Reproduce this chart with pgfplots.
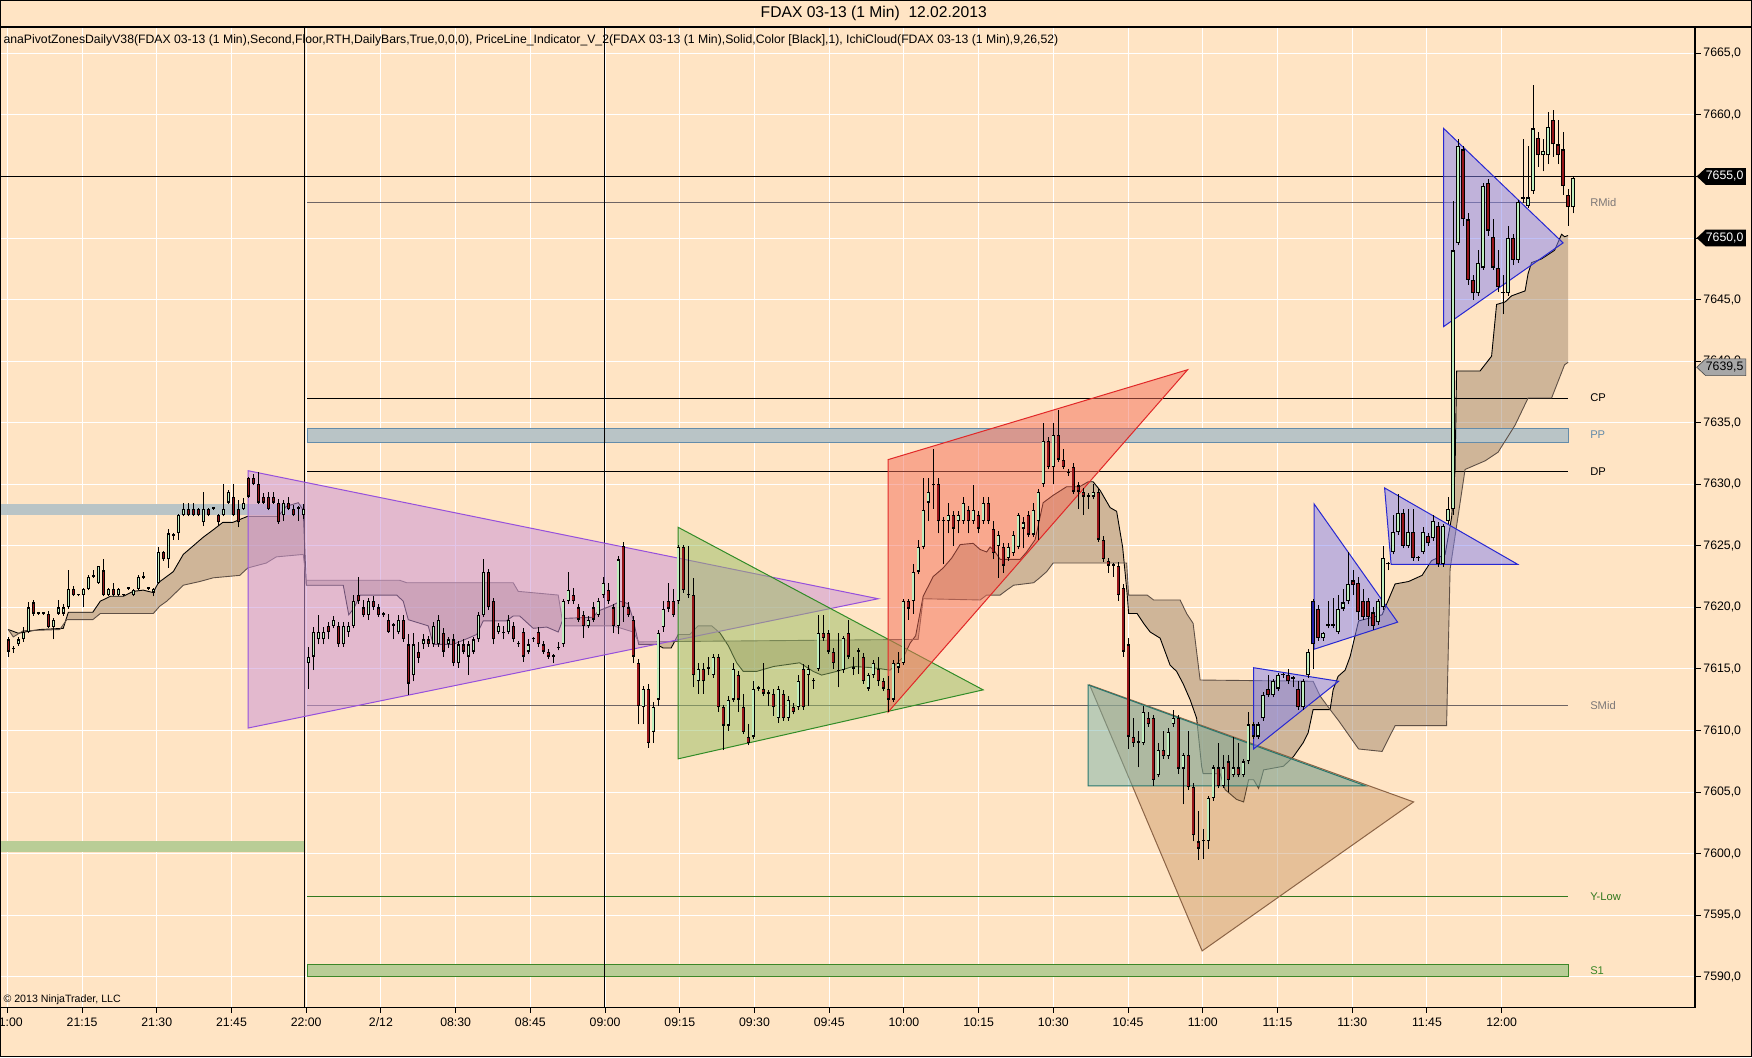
\documentclass[border=0pt]{standalone}
\usepackage{fontspec}
\setmainfont{Liberation Sans}
\usepackage{graphicx}
\usepackage{xcolor}
\usepackage{pgfplots}
\usepackage{pgfplotstable}
\pgfplotsset{compat=1.18}
\usepgfplotslibrary{fillbetween}

\definecolor{bisque}{RGB}{255,228,196}
\definecolor{upg}{RGB}{190,238,190}
\definecolor{dnr}{RGB}{150,20,25}
\definecolor{blu}{RGB}{30,30,170}
\definecolor{cloudc}{RGB}{160,135,110}
\definecolor{cloudl}{RGB}{95,80,70}
\definecolor{pinkf}{RGB}{205,150,215}
\definecolor{pinke}{RGB}{150,80,220}
\definecolor{greenf}{RGB}{150,190,100}
\definecolor{greene}{RGB}{50,140,40}
\definecolor{redf}{RGB}{245,110,90}
\definecolor{rede}{RGB}{225,40,40}
\definecolor{tealf}{RGB}{120,180,170}
\definecolor{teale}{RGB}{40,120,110}
\definecolor{brownf}{RGB}{200,150,100}
\definecolor{browne}{RGB}{140,100,70}
\definecolor{bluef}{RGB}{130,130,240}
\definecolor{bluee}{RGB}{40,40,210}
\definecolor{ppf}{RGB}{185,196,198}
\definecolor{ppe}{RGB}{100,140,170}
\definecolor{s1f}{RGB}{185,205,150}
\definecolor{s1e}{RGB}{60,135,40}
\definecolor{midl}{RGB}{110,100,100}
\definecolor{midt}{RGB}{125,120,120}
\definecolor{ylow}{RGB}{50,120,30}

\pgfplotstableread{
x o h l c
0 7617.4 7617.6 7616.0 7616.4
1 7616.6 7616.9 7616.3 7616.6
2 7617.0 7617.6 7616.9 7617.4
3 7617.4 7618.4 7617.2 7618.0
4 7618.0 7620.4 7617.9 7620.0
5 7620.4 7620.6 7619.3 7619.5
6 7619.5 7619.6 7619.4 7619.5
7 7619.5 7619.6 7619.4 7619.5
8 7619.5 7619.7 7618.3 7618.4
9 7618.4 7619.1 7617.4 7619.0
10 7619.5 7620.6 7619.4 7620.0
11 7619.5 7620.3 7619.3 7620.0
12 7620.0 7623.0 7619.9 7621.5
13 7621.5 7621.7 7620.9 7621.0
14 7621.0 7621.1 7620.9 7621.0
15 7621.0 7621.6 7620.0 7621.5
16 7621.5 7622.6 7621.4 7622.5
17 7622.5 7623.0 7622.4 7622.5
18 7622.0 7623.4 7621.9 7623.4
19 7623.0 7623.9 7620.9 7621.0
20 7621.0 7621.6 7620.9 7621.5
21 7621.5 7622.0 7620.9 7621.0
22 7621.0 7621.6 7620.9 7621.5
23 7621.0 7621.1 7620.9 7621.0
24 7621.5 7621.6 7621.4 7621.5
25 7621.0 7621.5 7620.9 7621.4
26 7621.5 7622.6 7621.4 7622.5
27 7622.4 7622.9 7622.3 7622.4
28 7621.5 7621.6 7621.4 7621.5
29 7621.2 7621.6 7620.9 7621.5
30 7622.0 7624.9 7621.9 7624.5
31 7624.5 7624.6 7623.8 7623.9
32 7623.9 7626.4 7623.2 7626.0
33 7625.8 7626.0 7625.5 7625.8
34 7626.0 7627.6 7625.5 7627.5
35 7627.5 7628.5 7627.4 7628.0
36 7628.0 7628.5 7627.4 7627.5
37 7628.0 7628.5 7627.4 7627.5
38 7628.0 7628.1 7627.4 7627.5
39 7626.9 7629.4 7626.6 7628.0
40 7628.0 7628.1 7627.4 7627.5
41 7628.0 7628.1 7627.9 7628.0
42 7627.5 7627.6 7626.6 7626.9
43 7627.5 7630.0 7627.4 7628.0
44 7628.5 7629.5 7628.4 7629.4
45 7629.0 7630.0 7627.4 7627.5
46 7628.0 7628.7 7626.5 7626.9
47 7628.0 7628.9 7627.9 7628.5
48 7630.5 7630.6 7628.9 7629.0
49 7630.5 7630.8 7629.9 7630.0
50 7630.0 7631.0 7628.4 7628.5
51 7629.0 7629.3 7628.4 7628.5
52 7629.0 7629.4 7627.9 7628.0
53 7629.0 7629.4 7628.4 7628.5
54 7628.5 7628.8 7626.8 7626.9
55 7627.5 7628.7 7627.0 7628.5
56 7628.5 7629.0 7627.9 7628.0
57 7628.0 7628.3 7627.4 7627.5
58 7628.0 7628.2 7627.0 7628.0
59 7627.5 7628.4 7627.2 7628.0
60 7615.5 7616.8 7613.4 7616.0
61 7616.0 7618.4 7614.9 7618.0
62 7617.4 7619.4 7617.0 7618.0
63 7617.4 7618.4 7617.0 7618.0
64 7618.5 7618.8 7617.4 7618.0
65 7618.5 7619.3 7618.3 7619.0
66 7618.5 7618.8 7616.8 7617.0
67 7617.0 7618.8 7616.8 7618.5
68 7618.0 7618.8 7617.6 7618.5
69 7618.5 7621.0 7618.3 7620.5
70 7621.0 7622.5 7620.3 7620.5
71 7620.0 7620.6 7619.2 7619.4
72 7619.4 7620.8 7619.0 7620.5
73 7620.5 7620.9 7619.8 7620.0
74 7620.0 7620.3 7619.2 7619.4
75 7619.4 7619.6 7619.2 7619.4
76 7619.0 7619.5 7617.9 7618.0
77 7618.5 7618.7 7617.4 7618.5
78 7618.0 7619.4 7617.8 7619.0
79 7619.0 7619.4 7617.2 7617.4
80 7617.0 7617.8 7612.9 7613.8
81 7614.5 7617.9 7614.0 7617.0
82 7616.4 7617.2 7615.5 7615.9
83 7617.0 7617.8 7616.6 7617.4
84 7617.4 7617.7 7616.8 7617.0
85 7617.0 7618.8 7616.8 7618.5
86 7617.0 7619.4 7616.8 7619.0
87 7617.9 7618.3 7616.0 7616.4
88 7617.0 7617.6 7616.7 7617.4
89 7617.4 7617.8 7615.2 7615.5
90 7615.5 7617.3 7615.1 7617.0
91 7617.0 7617.4 7616.2 7616.4
92 7616.0 7617.3 7614.5 7617.0
93 7616.4 7617.6 7616.2 7617.4
94 7617.4 7619.6 7617.2 7619.4
95 7619.4 7623.9 7619.2 7622.9
96 7622.9 7623.1 7619.8 7620.0
97 7620.5 7620.8 7617.0 7617.4
98 7618.0 7618.7 7617.8 7618.5
99 7617.9 7618.5 7617.4 7617.9
100 7618.0 7619.4 7617.8 7619.0
101 7618.5 7618.8 7617.2 7617.4
102 7617.0 7617.3 7616.8 7617.0
103 7618.0 7618.3 7615.6 7616.0
104 7616.4 7617.4 7616.2 7617.0
105 7617.4 7617.6 7617.2 7617.4
106 7618.0 7618.4 7616.8 7617.0
107 7617.0 7617.3 7616.2 7616.4
108 7616.4 7616.6 7615.8 7616.0
109 7616.0 7616.2 7615.5 7616.0
110 7616.7 7617.2 7616.5 7616.7
111 7617.0 7620.7 7616.8 7620.5
112 7620.5 7622.9 7620.3 7621.4
113 7621.0 7621.6 7620.3 7620.5
114 7620.0 7620.3 7618.8 7619.0
115 7619.4 7619.7 7617.5 7618.5
116 7618.5 7619.3 7618.3 7619.0
117 7620.0 7620.4 7618.8 7619.0
118 7619.4 7620.8 7619.2 7620.5
119 7621.0 7622.5 7620.8 7622.0
120 7621.4 7622.0 7620.3 7620.5
121 7620.0 7620.3 7617.9 7618.5
122 7618.5 7624.2 7617.8 7623.9
123 7625.0 7625.3 7618.8 7620.0
124 7620.0 7620.4 7619.2 7619.4
125 7619.0 7619.3 7615.5 7616.0
126 7615.5 7615.8 7610.5 7612.0
127 7611.9 7613.6 7610.5 7613.4
128 7613.4 7613.8 7608.6 7609.0
129 7609.9 7612.3 7609.0 7611.9
130 7612.5 7618.2 7612.0 7617.9
131 7618.4 7620.5 7618.0 7619.9
132 7620.5 7622.0 7619.6 7619.9
133 7620.5 7621.5 7619.2 7619.4
134 7620.5 7625.1 7620.3 7624.9
135 7624.9 7625.1 7621.2 7621.4
136 7621.0 7625.0 7620.8 7621.0
137 7621.0 7622.4 7613.5 7614.5
138 7614.0 7615.5 7613.0 7615.0
139 7615.0 7615.5 7613.0 7614.0
140 7615.0 7616.0 7614.5 7615.0
141 7614.5 7616.2 7614.3 7616.0
142 7616.0 7616.2 7611.5 7611.9
143 7611.9 7612.1 7608.4 7610.4
144 7610.4 7612.8 7610.0 7612.5
145 7612.5 7615.5 7612.3 7615.0
146 7614.5 7614.8 7611.5 7612.5
147 7611.9 7613.0 7609.7 7609.9
148 7609.5 7610.5 7608.8 7609.0
149 7609.5 7614.0 7609.3 7613.4
150 7613.4 7613.6 7613.2 7613.4
151 7613.4 7615.5 7612.8 7613.0
152 7613.0 7613.3 7612.0 7613.0
153 7613.0 7613.4 7611.2 7611.9
154 7611.0 7613.6 7610.6 7613.4
155 7613.0 7613.3 7610.8 7611.0
156 7611.0 7612.8 7610.8 7612.5
157 7611.9 7612.2 7611.3 7611.5
158 7611.9 7614.5 7611.7 7614.0
159 7615.0 7615.4 7611.7 7611.9
160 7614.5 7615.3 7612.0 7615.0
161 7614.0 7614.3 7613.4 7614.0
162 7615.0 7619.4 7614.8 7617.9
163 7617.9 7619.4 7617.3 7617.5
164 7617.9 7618.2 7616.2 7616.4
165 7616.4 7616.7 7615.0 7615.5
166 7614.8 7617.9 7613.5 7614.8
167 7614.9 7617.7 7614.7 7617.5
168 7617.9 7619.0 7615.8 7616.0
169 7615.0 7616.0 7614.5 7615.0
170 7616.4 7616.7 7614.6 7616.4
171 7616.0 7616.3 7613.8 7614.0
172 7613.4 7614.7 7613.2 7614.5
173 7614.5 7615.7 7614.3 7615.5
174 7615.0 7616.0 7613.6 7614.0
175 7614.0 7614.3 7613.2 7613.4
176 7613.4 7614.4 7611.5 7612.5
177 7612.5 7615.7 7612.3 7615.5
178 7615.1 7616.4 7614.7 7615.5
179 7615.5 7620.7 7615.3 7620.5
180 7620.5 7620.7 7619.0 7619.9
181 7620.5 7623.5 7619.5 7622.9
182 7622.9 7625.5 7622.7 7624.9
183 7624.9 7630.5 7624.7 7627.9
184 7628.5 7630.5 7627.0 7629.4
185 7629.9 7632.9 7628.0 7629.9
186 7630.0 7630.5 7626.0 7627.0
187 7627.0 7627.3 7623.5 7627.0
188 7627.0 7628.5 7626.0 7627.5
189 7627.5 7627.8 7625.0 7626.4
190 7627.0 7627.8 7626.0 7627.5
191 7627.0 7629.0 7626.8 7628.5
192 7627.9 7628.2 7626.0 7627.0
193 7627.0 7629.9 7626.8 7627.9
194 7627.5 7627.8 7626.0 7626.4
195 7627.0 7629.0 7626.8 7628.5
196 7628.5 7629.0 7626.8 7627.0
197 7626.4 7627.0 7623.9 7624.4
198 7625.0 7626.2 7622.4 7625.9
199 7624.9 7625.2 7622.8 7623.4
200 7624.0 7625.2 7623.8 7624.9
201 7624.4 7626.2 7624.2 7625.9
202 7624.9 7627.7 7624.7 7627.5
203 7626.4 7627.3 7624.8 7626.9
204 7627.5 7627.8 7625.7 7625.9
205 7625.9 7628.5 7625.7 7627.9
206 7627.0 7629.6 7625.5 7629.4
207 7630.0 7635.0 7629.8 7633.5
208 7633.5 7633.8 7631.2 7631.4
209 7631.4 7635.0 7630.0 7634.0
210 7634.0 7636.0 7631.8 7632.0
211 7632.0 7632.9 7631.2 7631.4
212 7630.9 7631.2 7630.7 7630.9
213 7631.4 7631.7 7629.2 7629.4
214 7629.9 7630.2 7628.0 7629.4
215 7629.4 7629.7 7627.5 7629.0
216 7629.0 7629.3 7628.0 7629.0
217 7629.0 7630.0 7628.8 7629.4
218 7629.4 7629.7 7625.3 7625.5
219 7625.5 7625.8 7623.7 7623.9
220 7623.8 7624.0 7622.8 7623.4
221 7623.4 7623.6 7622.5 7623.4
222 7623.4 7623.7 7620.5 7621.0
223 7621.6 7621.9 7616.0 7616.4
224 7617.0 7617.5 7608.5 7609.5
225 7609.5 7611.0 7608.7 7609.0
226 7609.0 7610.0 7607.0 7609.0
227 7609.0 7612.0 7608.8 7611.5
228 7611.0 7611.5 7610.3 7610.5
229 7611.0 7611.3 7605.5 7606.0
230 7606.4 7609.0 7606.2 7608.4
231 7608.4 7610.0 7607.7 7607.9
232 7607.9 7610.2 7607.7 7609.9
233 7610.5 7611.7 7610.3 7611.0
234 7611.0 7611.3 7606.5 7606.9
235 7606.9 7608.2 7604.0 7608.0
236 7608.0 7610.0 7605.2 7605.4
237 7605.4 7605.7 7601.0 7601.5
238 7601.0 7603.5 7599.5 7600.4
239 7601.0 7602.0 7599.6 7601.0
240 7601.0 7604.7 7600.4 7604.5
241 7604.5 7607.2 7604.3 7607.0
242 7607.0 7609.0 7605.3 7605.5
243 7605.5 7608.0 7605.3 7607.0
244 7607.5 7608.0 7605.0 7606.0
245 7606.4 7609.5 7606.2 7607.0
246 7607.0 7609.0 7606.2 7606.4
247 7606.4 7607.7 7606.2 7607.5
248 7607.5 7611.5 7607.3 7610.5
249 7609.5 7610.7 7609.3 7610.5
250 7609.5 7610.7 7609.3 7610.5
251 7611.0 7613.1 7610.8 7612.9
252 7613.4 7614.5 7612.7 7612.9
253 7612.9 7614.2 7612.7 7614.0
254 7613.4 7614.7 7613.2 7614.5
255 7614.5 7614.7 7614.3 7614.5
256 7614.5 7615.0 7613.8 7614.0
257 7614.2 7614.4 7613.5 7614.2
258 7613.4 7614.0 7611.7 7611.9
259 7611.9 7614.2 7611.7 7614.0
260 7614.5 7616.6 7614.3 7616.4
261 7617.0 7620.7 7615.0 7620.5
262 7619.9 7620.2 7617.3 7617.5
263 7617.5 7618.0 7617.3 7617.9
264 7618.5 7620.5 7618.3 7618.5
265 7618.5 7620.8 7618.3 7618.5
266 7618.0 7621.0 7617.8 7619.9
267 7619.9 7621.5 7619.7 7620.4
268 7620.5 7624.5 7620.3 7621.9
269 7622.2 7623.0 7621.0 7621.8
270 7622.0 7622.5 7619.0 7619.6
271 7620.5 7621.5 7619.0 7619.2
272 7620.5 7620.8 7618.5 7619.2
273 7619.6 7620.0 7618.2 7618.5
274 7618.8 7620.7 7618.6 7620.5
275 7620.0 7625.0 7619.8 7624.0
276 7623.5 7623.7 7623.0 7623.5
277 7624.5 7627.5 7624.3 7626.1
278 7626.1 7629.2 7625.9 7627.7
279 7627.7 7628.0 7624.8 7625.0
280 7625.0 7628.0 7624.8 7626.1
281 7626.1 7628.0 7623.8 7624.0
282 7624.0 7624.2 7623.8 7624.0
283 7624.5 7626.5 7624.3 7626.1
284 7625.8 7626.0 7625.0 7625.2
285 7625.6 7627.5 7625.4 7627.0
286 7626.6 7626.9 7623.3 7623.5
287 7623.5 7626.8 7623.3 7626.6
288 7627.0 7629.0 7626.8 7628.0
289 7628.0 7653.0 7627.5 7649.0
290 7649.6 7658.0 7649.4 7657.5
291 7657.2 7657.5 7651.0 7651.5
292 7651.5 7652.0 7646.2 7646.6
293 7646.6 7647.0 7645.0 7645.5
294 7645.5 7649.0 7645.3 7648.0
295 7647.6 7654.5 7647.4 7654.2
296 7654.5 7654.8 7650.2 7650.6
297 7650.1 7651.5 7647.4 7647.6
298 7647.6 7649.0 7645.6 7646.0
299 7645.5 7647.0 7643.8 7645.5
300 7645.5 7651.0 7645.3 7650.0
301 7650.0 7650.3 7647.8 7648.2
302 7648.2 7653.1 7648.0 7652.9
303 7653.2 7658.0 7652.8 7653.2
304 7652.6 7657.5 7652.4 7653.3
305 7653.8 7662.4 7653.6 7658.9
306 7658.1 7658.6 7655.8 7656.7
307 7656.7 7658.0 7655.4 7657.1
308 7656.7 7660.2 7656.0 7659.0
309 7659.6 7660.4 7656.6 7657.6
310 7657.6 7659.6 7656.0 7656.7
311 7657.2 7658.6 7653.5 7654.2
312 7653.5 7654.0 7651.0 7652.5
313 7652.5 7655.0 7652.0 7654.9
}\candles

\pgfplotstableread{
x o h l c
249 7609.5 7610.7 7609.3 7610.5
261 7617.0 7620.7 7615.0 7620.5
}\bluecandles

\pgfplotsset{
  wick/.style={draw=none, mark=none, error bars/.cd, y dir=plus, y explicit, error mark=none,
    error bar style={draw=black, line width=0.9pt}},
  body/.style={draw=none, mark=none, error bars/.cd, y dir=plus, y explicit, error mark=none,
    error bar style={draw=#1, line width=1.3pt}},
}

\begin{document}
\pagecolor{bisque}%
\begin{tikzpicture}
\begin{axis}[
  at={(0pt,44.7pt)}, anchor=south west, scale only axis,
  width=1517pt, height=877.1pt,
  xmin=-1.66, xmax=337.4, ymin=7587.54, ymax=7667.13,
  axis background/.style={fill=bisque},
  axis line style={black, line width=1pt},
  xtick={-0.19,14.76,29.70,44.65,59.59,74.54,89.48,104.43,119.37,134.32,149.26,164.21,179.15,194.10,209.04,223.99,238.93,253.88,268.82,283.77,298.71},
  xticklabels={21:00,21:15,21:30,21:45,22:00,2/12,08:30,08:45,09:00,09:15,09:30,09:45,10:00,10:15,10:30,10:45,11:00,11:15,11:30,11:45,12:00},
  ytick={7590,7595,7600,7605,7610,7615,7620,7625,7630,7635,7640,7645,7650,7655,7660,7665},
  yticklabels={{7590,0},{7595,0},{7600,0},{7605,0},{7610,0},{7615,0},{7620,0},{7625,0},{7630,0},{7635,0},{7640,0},{7645,0},{7650,0},{7655,0},{7660,0},{7665,0}},
  xtick pos=bottom, ytick pos=right, yticklabel pos=right,
  tick align=outside, major tick length=5pt,
  tick style={black, line width=0.8pt},
  ticklabel style={font=\fontsize{11}{13}\selectfont, text=black},
  yticklabel style={anchor=west, xshift=-1pt},
  xticklabel style={yshift=-1pt},
  grid=major, major grid style={white, line width=0.8pt},
]
% previous-day zones
\addplot[fill=ppf, draw=none] coordinates {(-1.66,7627.5) (59.3,7627.5) (59.3,7628.4) (-1.66,7628.4)} -- cycle;
\addplot[fill=s1f, draw=none] coordinates {(-1.66,7600.1) (59.3,7600.1) (59.3,7601.0) (-1.66,7601.0)} -- cycle;
% pivot zones
\addplot[fill=ppf, draw=ppe, line width=0.8pt] coordinates {(59.8,7633.4) (312,7633.4) (312,7634.5) (59.8,7634.5)} -- cycle;
\addplot[fill=s1f, draw=s1e, line width=0.8pt] coordinates {(59.8,7590.0) (312,7590.0) (312,7591.0) (59.8,7591.0)} -- cycle;
\addplot[midl, line width=0.8pt] coordinates {(59.8,7652.9) (312,7652.9)};
\addplot[black, line width=0.8pt] coordinates {(59.8,7637.0) (312,7637.0)};
\addplot[black, line width=0.8pt] coordinates {(59.8,7631.0) (312,7631.0)};
\addplot[midl, line width=0.8pt] coordinates {(59.8,7612.0) (312,7612.0)};
\addplot[ylow, line width=0.8pt] coordinates {(59.8,7596.5) (312,7596.5)};
% session separators and price line
\addplot[black, line width=0.9pt] coordinates {(59.3,7587.54) (59.3,7667.13)};
\addplot[black, line width=0.9pt] coordinates {(119.2,7587.54) (119.2,7667.13)};
\addplot[black, line width=0.9pt] coordinates {(-1.66,7655.0) (337.4,7655.0)};
% Ichimoku cloud
\addplot[name path=A, black, line width=0.8pt] coordinates {(0,7618.2) (2,7617.9) (3.3,7618.0) (6.3,7618.2) (11,7618.3) (12,7619.6) (16.9,7619.6) (18.4,7620.5) (20.4,7620.9) (23,7620.9) (25,7621.3) (27,7621.4) (29,7621.2) (30,7622.0) (33,7622.9) (35,7624.3) (39,7625.7) (41,7626.3) (42.9,7626.9) (44.9,7626.9) (47.9,7627.4) (54,7627.4) (55.6,7628.2) (58,7628.5) (59,7627.9) (59.6,7621.8) (67,7621.8) (68.1,7619.4) (69.1,7619.9) (70.4,7621.0) (77.7,7621.0) (79,7620.5) (80,7619.0) (84,7618.5) (85,7617.0) (89,7617.0) (92,7617.5) (93.7,7617.8) (95,7618.9) (99.6,7618.9) (101,7619.3) (102.3,7619.3) (105,7618.3) (107.7,7618.4) (110,7618.0) (111,7619.1) (117,7619.2) (118,7619.7) (121,7620.2) (122.4,7620.5) (124,7620.3) (125,7619.0) (126.1,7617.0) (129.6,7617.0) (131,7616.7) (132.6,7616.7) (134,7617.8) (136.3,7617.8) (138,7618.5) (140.7,7618.5) (142.4,7617.9) (144,7616.9) (145.7,7615.5) (147,7614.8) (149.7,7614.8) (153.1,7615.2) (158.3,7615.5) (161,7614.8) (162.7,7614.5) (165.7,7614.8) (169,7615.2) (173,7615.1) (176.4,7614.9) (179.1,7616.0) (180.4,7617.1) (181.5,7617.7) (183,7620.9) (185,7622.5) (187,7623.2) (188.7,7624.0) (190.4,7625.1) (193,7625.2) (194.4,7624.7) (195.7,7624.5) (196.4,7624.9) (197.4,7624.5) (198.4,7623.9) (202.4,7623.9) (203.7,7624.5) (205.4,7625.5) (207,7628.5) (209,7629.1) (211.7,7629.8) (214.3,7629.8) (216,7630.2) (217,7630.2) (218.4,7629.5) (220.4,7628.1) (221.7,7627.8) (222.9,7624.9) (223.8,7621.1) (224.1,7619.5) (225.8,7619.5) (227.1,7618.7) (228.4,7618.0) (230.4,7617.5) (232.4,7615.3) (233.7,7614.8) (235,7613.8) (236.4,7612.5) (237.7,7611.0) (238.7,7607.1) (239,7606.5) (242.4,7606.5) (243.4,7605.2) (245.7,7604.4) (247.1,7604.2) (248.1,7606.0) (249.1,7606.0) (250.1,7605.3) (251.1,7606.8) (255.1,7607.1) (257.1,7607.9) (259,7609.0) (260,7609.8) (261,7611.7) (264.4,7611.7) (265,7613.3) (266,7614.4) (267.4,7614.9) (268.4,7616.0) (270.1,7618.9) (274.8,7619.4) (277.4,7621.9) (280.1,7622.1) (282.8,7622.6) (284.7,7623.8) (287.4,7624.3) (288.7,7627.3) (289.4,7631.2) (289.7,7639.2) (294.4,7639.2) (296.7,7640.4) (297.7,7644.6) (299.4,7644.8) (300.7,7645.3) (303.4,7645.7) (304,7647.1) (304.7,7648.0) (306.7,7648.3) (309.3,7649.0) (310.7,7650.3) (311.3,7650.1) (312,7650.2)};
\addplot[name path=B, cloudl, line width=0.8pt] coordinates {(0,7618.2) (1,7617.6) (3,7618.1) (10.3,7618.2) (11.7,7619.0) (16.9,7619.0) (18.4,7619.5) (29,7619.5) (30.3,7620.1) (31.7,7620.5) (33,7621.0) (35,7621.8) (38.3,7622.1) (41,7622.4) (46.3,7622.6) (47.9,7623.2) (51.6,7623.6) (53.6,7624.1) (59,7624.3) (59.6,7622.2) (78.3,7622.2) (79.7,7622.0) (101,7622.0) (102,7621.3) (110,7621.0) (111,7618.5) (121,7618.5) (125,7618.0) (126.1,7617.2) (182,7617.4) (183,7620.7) (194.4,7620.6) (195.7,7621.0) (198.4,7621.0) (199.7,7621.4) (201.1,7621.8) (205.1,7622.0) (206.3,7622.4) (207.7,7622.9) (209,7623.6) (223.7,7623.6) (224.1,7621.0) (227.8,7621.0) (229.1,7620.6) (234.4,7620.6) (235.7,7619.5) (237,7618.7) (238.4,7614.1) (261,7614.0) (262.4,7612.8) (264.4,7611.7) (266.1,7610.8) (270.1,7608.5) (274.8,7608.3) (277.4,7610.4) (287.7,7610.4) (288.4,7623.1) (291.4,7631.2) (295.4,7631.9) (298,7632.6) (301.4,7634.8) (304,7637.0) (308.7,7637.0) (311.3,7639.7) (312,7639.9)};
\addplot[fill=cloudc, fill opacity=0.5, draw=none] fill between[of=A and B];
% drawn triangles
\addplot[fill=pinkf, fill opacity=0.55, draw=pinke, line width=0.9pt] coordinates {(47.95,7631.1) (47.95,7610.2) (174.0,7620.7)} -- cycle;
\addplot[fill=greenf, fill opacity=0.5, draw=greene, line width=0.9pt] coordinates {(134.0,7626.5) (134.0,7607.7) (195.0,7613.3)} -- cycle;
\addplot[fill=redf, fill opacity=0.5, draw=rede, line width=0.9pt] coordinates {(176.0,7632.0) (176.0,7611.5) (235.9,7639.3)} -- cycle;
\addplot[fill=brownf, fill opacity=0.45, draw=browne, line width=0.9pt] coordinates {(216.3,7613.7) (238.8,7592.1) (281.1,7604.2)} -- cycle;
\addplot[fill=tealf, fill opacity=0.5, draw=teale, line width=0.9pt] coordinates {(216.0,7613.7) (216.0,7605.5) (271.5,7605.5)} -- cycle;
\addplot[fill=bluef, fill opacity=0.5, draw=bluee, line width=0.9pt] coordinates {(249.1,7615.1) (249.1,7608.5) (266.1,7614.0)} -- cycle;
\addplot[fill=bluef, fill opacity=0.5, draw=bluee, line width=0.9pt] coordinates {(261.2,7628.4) (261.2,7616.6) (277.9,7618.8)} -- cycle;
\addplot[fill=bluef, fill opacity=0.5, draw=bluee, line width=0.9pt] coordinates {(275.3,7629.7) (276.6,7623.5) (301.9,7623.5)} -- cycle;
\addplot[fill=bluef, fill opacity=0.5, draw=bluee, line width=0.9pt] coordinates {(287.1,7658.9) (287.1,7642.8) (311.0,7649.6)} -- cycle;
% candles
\addplot[wick] table[x=x, y=l, y error plus expr={\thisrow{h}-\thisrow{l}}] {\candles};
\addplot[draw=none, mark=none, error bars/.cd, y dir=plus, y explicit, error mark=none,
    error bar style={draw=black, line width=2.9pt}]
  table[x=x, y expr={min(\thisrow{o},\thisrow{c})}, y error plus expr={max(abs(\thisrow{c}-\thisrow{o}),0.12)}] {\candles};
\addplot[restrict expr to domain={\thisrow{c}-\thisrow{o}}{0.3:100}, body=upg]
  table[x=x, y expr={\thisrow{o}+0.1}, y error plus expr={\thisrow{c}-\thisrow{o}-0.2}] {\candles};
\addplot[restrict expr to domain={\thisrow{o}-\thisrow{c}}{0.3:100}, body=dnr]
  table[x=x, y expr={\thisrow{c}+0.1}, y error plus expr={\thisrow{o}-\thisrow{c}-0.2}] {\candles};
\addplot[body=blu]
  table[x=x, y expr={\thisrow{o}+0.1}, y error plus expr={\thisrow{c}-\thisrow{o}-0.2}] {\bluecandles};
% level labels
\node[anchor=west, inner sep=0, text=midt, font=\fontsize{10}{12}\selectfont] at (axis cs:316.4,7652.9) {RMid};
\node[anchor=west, inner sep=0, text=black, font=\fontsize{10}{12}\selectfont] at (axis cs:316.4,7637.0) {CP};
\node[anchor=west, inner sep=0, text=ppe, font=\fontsize{10}{12}\selectfont] at (axis cs:316.4,7634.0) {PP};
\node[anchor=west, inner sep=0, text=black, font=\fontsize{10}{12}\selectfont] at (axis cs:316.4,7631.0) {DP};
\node[anchor=west, inner sep=0, text=midt, font=\fontsize{10}{12}\selectfont] at (axis cs:316.4,7612.0) {SMid};
\node[anchor=west, inner sep=0, text=ylow, font=\fontsize{10}{12}\selectfont] at (axis cs:316.4,7596.5) {Y-Low};
\node[anchor=west, inner sep=0, text=s1e, font=\fontsize{10}{12}\selectfont] at (axis cs:316.4,7590.5) {S1};
\coordinate (p55) at (axis cs:337.4,7655.0);
\coordinate (p50) at (axis cs:337.4,7650.0);
\coordinate (p39) at (axis cs:337.4,7639.5);
\end{axis}
% price markers on the scale
\fill[black] ([xshift=1.5pt]p55) -- ++(8pt,7.5pt) -- ++(36pt,0pt) -- ++(0pt,-15pt) -- ++(-36pt,0pt) -- cycle;
\node[anchor=west, inner sep=0, text=white, font=\fontsize{11}{13}\selectfont] at ([xshift=9.5pt]p55) {7655,0};
\fill[black] ([xshift=1.5pt]p50) -- ++(8pt,7.5pt) -- ++(36pt,0pt) -- ++(0pt,-15pt) -- ++(-36pt,0pt) -- cycle;
\node[anchor=west, inner sep=0, text=white, font=\fontsize{11}{13}\selectfont] at ([xshift=9.5pt]p50) {7650,0};
\filldraw[fill=gray!85!black!60, draw=black!70, line width=0.6pt] ([xshift=1.5pt]p39) -- ++(8pt,7.5pt) -- ++(36pt,0pt) -- ++(0pt,-15pt) -- ++(-36pt,0pt) -- cycle;
\node[anchor=west, inner sep=0, text=black, font=\fontsize{11}{13}\selectfont] at ([xshift=9.5pt]p39) {7639,5};
% texts
\node[anchor=center, inner sep=0, font=\fontsize{14}{16}\selectfont] at (782pt,934pt) {FDAX 03-13 (1 Min)\ \ 12.02.2013};
\node[anchor=west, inner sep=0] at (3pt,910pt) {\resizebox{944pt}{!}{\fontsize{10}{12}\selectfont anaPivotZonesDailyV38(FDAX 03-13 (1 Min),Second,Floor,RTH,DailyBars,True,0,0,0), PriceLine\_Indicator\_V\_2(FDAX 03-13 (1 Min),Solid,Color [Black],1), IchiCloud(FDAX 03-13 (1 Min),9,26,52)}};
\node[anchor=west, inner sep=0, font=\fontsize{9.5}{11}\selectfont] at (3pt,51pt) {\textcopyright\ 2013 NinjaTrader, LLC};
% frame
\draw[black, line width=1pt] (0pt,921.8pt) -- (1568pt,921.8pt);
\draw[black, line width=1.2pt] (0.6pt,0.6pt) rectangle (1567.4pt,945.4pt);
\pgfresetboundingbox
\useasboundingbox (0pt,0pt) rectangle (1568pt,946pt);
\end{tikzpicture}
\end{document}
